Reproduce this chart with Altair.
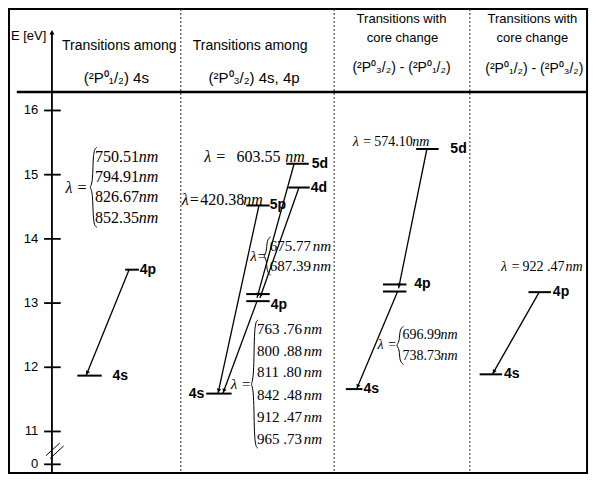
import math
import altair as alt
import pandas as pd

# ---------------- canvas / coordinate frame ----------------
W, H = 581, 466
XD = [4, 599]          # horizontal layout units
YD = [4, 486]          # vertical layout units (annotation layer)
KX = W / (XD[1] - XD[0])
KY = H / (YD[1] - YD[0])

def ref_y(e):
    # where an energy sits in layout units (used for piecewise scale + arrowhead geometry)
    return 476 - e * (34 / 11) if e < 11 else 110 + (16 - e) * 66.4

EV_DOMAIN = [0, 11, 16]
EV_RANGE = [(ref_y(v) - YD[0]) * KY for v in EV_DOMAIN]

# ---------------- data ----------------
tick_values = [0, 11, 12, 13, 14, 15, 16]
tick_labels = ["0", "11", "12", "13", "14", "15", "16"]

# energy levels (eV)
level_energy = [11.87, 13.52, 15.17, 14.80, 14.52, 13.14, 13.03, 11.59, 15.40, 13.29, 13.18, 11.66, 13.17, 11.89]
level_x1 = [75, 124, 289, 291, 248, 248, 248, 207, 422, 388, 388, 350, 537, 487]
level_x2 = [100, 138, 312, 313, 272, 272, 272, 233, 445, 412, 412, 367, 560, 510]

label_text = ["4s", "4p", "5d", "4d", "5p", "4p", "4s", "5d", "4p", "4s", "4p", "4s"]
label_energy = [11.87, 13.52, 15.17, 14.80, 14.52, 12.97, 11.59, 15.40, 13.29, 11.66, 13.17, 11.89]
label_x = [111, 139, 315, 314, 272, 273, 205, 457, 420, 368, 562, 512]
label_align = ["left", "left", "left", "left", "left", "left", "right", "left", "left", "left", "left", "left"]

# transitions (upper level -> lower level)
tr_x1 = [128, 261, 297, 302, 259, 433, 403, 548]
tr_e1 = [13.52, 14.52, 15.17, 14.80, 13.03, 15.40, 13.18, 13.17]
tr_x2 = [84, 219, 259, 262, 224, 404, 361, 500]
tr_e2 = [11.87, 11.59, 13.08, 13.08, 11.59, 13.23, 11.66, 11.89]

# wavelengths
wl_numbers = [
    ["750.51", "794.91", "826.67", "852.35"],
    ["603.55"],
    ["420.38"],
    ["675.77", "687.39"],
    ["763 .76", "800 .88", "811 .80", "842 .48", "912 .47", "965 .73"],
    ["574.10"],
    ["696.99", "738.73"],
    ["922 .47"],
]
grp_num_x = [93, 238, 201, 272, 259, 379, 408, 531]
grp_unit_x = [138, 288, 245, 316, 307, 418, 447, 575]
grp_row_y = [[158, 179, 200, 221], [158], [203], [250, 271],
             [336, 359, 381, 404, 427, 450], [143], [342, 364], [272]]
grp_font = [16, 16, 16, 15, 15, 14, 14, 14]
grp_brace_x = [91, None, None, 269, 256, None, 405, None]
lam_text = ["λ =", "λ =", "λ=", "λ=", "λ =", "λ =", "λ =", "λ ="]
lam_x = [63, 205, 182, 252, 253, 357, 402, 509]
lam_y = [190, 158, 203, 261, 393, 143, 353, 272]
lam_align = ["left", "left", "left", "left", "right", "left", "right", "left"]

# headers
head_text = ["Transitions among", "(\u00b2P\u2070\u2081/\u2082) 4s",
             "Transitions among", "(\u00b2P\u2070\u2083/\u2082) 4s, 4p",
             "Transitions with", "core change", "(\u00b2P\u2070\u2083/\u2082) - (\u00b2P\u2070\u2081/\u2082)",
             "Transitions with", "core change", "(\u00b2P\u2070\u2081/\u2082) - (\u00b2P\u2070\u2083/\u2082)"]
head_x = [118, 115, 252, 256, 407, 408, 407, 541, 541, 543]
head_y = [43, 76, 43, 76, 15, 35, 66, 15, 35, 67]
head_fs = [14, 15, 14, 15, 13, 13, 14, 13, 13, 14]

# ---------------- scales ----------------
XS = alt.Scale(domain=XD, range=[0, W], nice=False, zero=False)
YPX = alt.Scale(domain=YD, range=[0, H], nice=False, zero=False)
YEV = alt.Scale(domain=EV_DOMAIN, range=EV_RANGE, nice=False, zero=False)

def xq(f="x"):
    return alt.X(f"{f}:Q", scale=XS, axis=None)

def ypx(f="py"):
    return alt.Y(f"{f}:Q", scale=YPX, axis=None)

def yev(f="E"):
    return alt.Y(f"{f}:Q", scale=YEV, axis=None)

layers = []

# frame
frame = pd.DataFrame({"x": [5], "x2": [597], "py": [5], "py2": [485]})
layers.append(alt.Chart(frame).mark_rect(fillOpacity=0, stroke="black", strokeWidth=2).encode(
    x=xq(), x2="x2:Q", y=ypx(), y2="py2:Q"))

# header separator line
hl = pd.DataFrame({"x": [13], "x2": [597], "py": [91]})
layers.append(alt.Chart(hl).mark_rule(strokeWidth=2.5, color="black").encode(x=xq(), x2="x2:Q", y=ypx()))

# dashed panel separators
sep = pd.DataFrame({"x": [181, 338, 477], "py": [5, 5, 5], "py2": [485, 485, 485]})
layers.append(alt.Chart(sep).mark_rule(strokeDash=[2, 2], strokeWidth=1, color="#222").encode(
    x=xq(), y=ypx(), y2="py2:Q"))

# headers
hd = pd.DataFrame({"t": head_text, "x": head_x, "py": head_y, "fs": head_fs})
layers.append(alt.Chart(hd).mark_text(font="Liberation Sans", baseline="middle", align="center", color="black").encode(
    x=xq(), y=ypx(), text="t:N", size=alt.Size("fs:Q", scale=None)))

# axis title
et = pd.DataFrame({"t": ["E [eV]"], "x": [7], "py": [33]})
layers.append(alt.Chart(et).mark_text(font="Liberation Sans", fontSize=13, align="left", baseline="middle", color="black").encode(
    x=xq(), y=ypx(), text="t:N"))

# axis line + arrow head
ax = pd.DataFrame({"x": [49], "py": [30], "py2": [485]})
layers.append(alt.Chart(ax).mark_rule(strokeWidth=1.8, color="black").encode(x=xq(), y=ypx(), y2="py2:Q"))
ah = pd.DataFrame({"x": [49], "py": [29]})
layers.append(alt.Chart(ah).mark_point(shape="triangle-up", filled=True, size=26, color="black", opacity=1).encode(
    x=xq(), y=ypx()))

# axis break slashes
br = pd.DataFrame({"x": [43, 47], "x2": [57, 61], "py": [467, 470], "py2": [454, 457]})
layers.append(alt.Chart(br).mark_rule(strokeWidth=1, color="black").encode(x=xq(), x2="x2:Q", y=ypx(), y2="py2:Q"))

# ticks and tick labels (energy scale)
tk = pd.DataFrame({"E": tick_values, "lab": tick_labels, "x": [41] * len(tick_values), "x2": [58] * len(tick_values),
                   "xl": [35] * len(tick_values)})
layers.append(alt.Chart(tk).mark_rule(strokeWidth=1.8, color="black").encode(x=xq(), x2="x2:Q", y=yev()))
layers.append(alt.Chart(tk).mark_text(font="Liberation Sans", fontSize=13, align="right", baseline="middle", color="black").encode(
    x=xq("xl"), y=yev(), text="lab:N"))

# levels
lv = pd.DataFrame({"E": level_energy, "x": level_x1, "x2": level_x2})
layers.append(alt.Chart(lv).mark_rule(strokeWidth=2, color="black").encode(x=xq(), x2="x2:Q", y=yev()))

# transitions
tr = pd.DataFrame({"x": tr_x1, "E": tr_e1, "x2": tr_x2, "E2": tr_e2})
layers.append(alt.Chart(tr).mark_rule(strokeWidth=1.3, color="black").encode(x=xq(), x2="x2:Q", y=yev(), y2="E2:Q"))

heads = []
for x1, e1, x2, e2 in zip(tr_x1, tr_e1, tr_x2, tr_e2):
    dxp = (x2 - x1) * KX
    dyp = (ref_y(e2) - ref_y(e1)) * KY
    L = math.hypot(dxp, dyp)
    ang = math.degrees(math.atan2(-dxp, dyp)) % 360
    t = 3.0 / L
    heads.append({"x": x2 - (x2 - x1) * t, "E": e2 + (e1 - e2) * t, "ang": ang})
hdf = pd.DataFrame(heads)
layers.append(alt.Chart(hdf).mark_point(shape="triangle-down", filled=True, size=20, color="black", opacity=1).encode(
    x=xq(), y=yev(), angle=alt.Angle("ang:Q", scale=None)))

# level labels
lb = pd.DataFrame({"t": label_text, "E": label_energy, "x": label_x, "al": label_align})
for al in ["left", "right"]:
    sub = lb[lb["al"] == al]
    layers.append(alt.Chart(sub).mark_text(font="Liberation Sans", fontWeight="bold", fontSize=14, align=al,
                                           baseline="middle", color="black").encode(
        x=xq(), y=yev(), text="t:N"))

# wavelength annotations
nums, units, braces = [], [], []
for g, vals in enumerate(wl_numbers):
    ys = grp_row_y[g]
    for v, yy in zip(vals, ys):
        nums.append({"t": v, "x": grp_num_x[g], "py": yy, "fs": grp_font[g]})
        units.append({"t": "nm", "x": grp_unit_x[g], "py": yy, "fs": grp_font[g]})
    bx = grp_brace_x[g]
    if bx is not None:
        top = ys[0] - grp_font[g] * 0.62
        bot = ys[-1] + grp_font[g] * 0.62
        mid = (top + bot) / 2
        pts = [(bx + 4, top), (bx, top + 3), (bx, mid - 3), (bx - 4, mid),
               (bx, mid + 3), (bx, bot - 3), (bx + 4, bot)]
        for k, (px_, py_) in enumerate(pts):
            braces.append({"g": g, "k": k, "x": px_, "py": py_})

layers.append(alt.Chart(pd.DataFrame(nums)).mark_text(font="Liberation Serif", align="left", baseline="middle", color="black").encode(
    x=xq(), y=ypx(), text="t:N", size=alt.Size("fs:Q", scale=None)))
layers.append(alt.Chart(pd.DataFrame(units)).mark_text(font="Liberation Serif", fontStyle="italic", align="left",
                                                         baseline="middle", color="black").encode(
    x=xq(), y=ypx(), text="t:N", size=alt.Size("fs:Q", scale=None)))
layers.append(alt.Chart(pd.DataFrame(braces)).mark_line(interpolate="basis", strokeWidth=1, color="black").encode(
    x=xq(), y=ypx(), order=alt.Order("k:Q"), detail=alt.Detail("g:N")))

lam = pd.DataFrame({"t": lam_text, "x": lam_x, "py": lam_y, "fs": grp_font, "al": lam_align})
for al in ["left", "right"]:
    sub = lam[lam["al"] == al]
    layers.append(alt.Chart(sub).mark_text(font="Liberation Serif", fontStyle="italic", align=al,
                                           baseline="middle", color="black").encode(
        x=xq(), y=ypx(), text="t:N", size=alt.Size("fs:Q", scale=None)))

chart = alt.layer(*layers).resolve_scale(y="independent").properties(
    width=W, height=H, padding=0, autosize=alt.AutoSizeParams(type="none")
).configure_view(strokeWidth=0).configure(background="white")

chart.save("out.html", embed_options={"renderer": "svg", "actions": False})
